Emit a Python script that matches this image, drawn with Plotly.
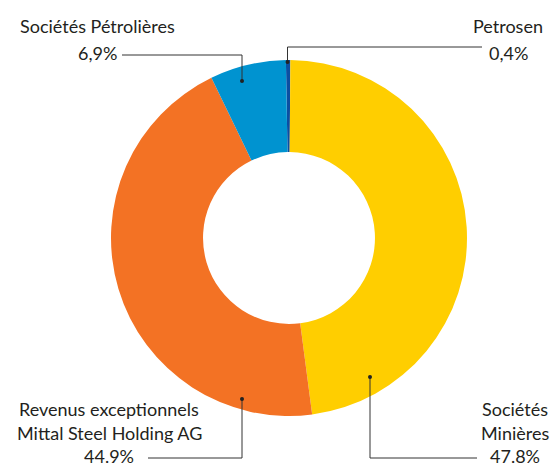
import plotly.graph_objects as go

W, H = 555, 468

categories = ["Petrosen", "Sociétés Minières", "Revenus exceptionnels Mittal Steel Holding AG", "Sociétés Pétrolières"]
values = [0.4, 47.8, 44.9, 6.9]
colors = ["#0B4EA2", "#FFCE00", "#F37224", "#0093D0"]

label_lines = {
    "Petrosen": ["Petrosen", "0,4%"],
    "Sociétés Minières": ["Sociétés", "Minières", "47.8%"],
    "Revenus exceptionnels Mittal Steel Holding AG": ["Revenus exceptionnels", "Mittal Steel Holding AG", "44.9%"],
    "Sociétés Pétrolières": ["Sociétés Pétrolières", "6,9%"],
}

# layout helpers (pixels -> paper)
def px(x):
    return x / W

def py(y):
    return 1 - y / H

cx, cy, R = 289, 238, 178

fig = go.Figure(go.Pie(
    labels=categories,
    values=values,
    marker=dict(colors=colors, line=dict(width=0)),
    sort=False,
    direction="clockwise",
    rotation=-1,
    hole=0.483,
    textinfo="none",
    hoverinfo="label+percent",
    showlegend=False,
    domain=dict(x=[px(cx - R), px(cx + R)], y=[py(cy + R), py(cy - R)]),
))

# label placement (pixel positions of text lines) and leader paths
label_pos = {
    "Sociétés Pétrolières": (97, [26, 53]),
    "Petrosen": (508, [26, 53]),
    "Revenus exceptionnels Mittal Steel Holding AG": (109, [409, 433, 456]),
    "Sociétés Minières": (515, [409, 433, 456]),
}
leaders = {
    "Sociétés Pétrolières": [(242, 81), (242, 55), (122, 55)],
    "Petrosen": [(287.5, 62), (287.5, 47), (482, 47)],
    "Revenus exceptionnels Mittal Steel Holding AG": [(242, 399), (242, 458), (148, 458)],
    "Sociétés Minières": [(370, 377), (370, 458), (477, 458)],
}

annotations = []
shapes = []
txt_color = "#231F20"
for cat in categories:
    xc, ys = label_pos[cat]
    for line, yy in zip(label_lines[cat], ys):
        annotations.append(dict(
            x=px(xc), y=py(yy), xref="paper", yref="paper",
            text=line, showarrow=False, xanchor="center", yanchor="middle",
            borderpad=0,
            font=dict(family="Lato", size=18, color=txt_color),
        ))
    pts = leaders[cat]
    path = "M " + " L ".join(f"{px(x)},{py(y)}" for x, y in pts)
    shapes.append(dict(type="path", path=path, xref="paper", yref="paper",
                       line=dict(color="#333333", width=1)))
    dx, dy = pts[0]
    r = 2
    shapes.append(dict(type="circle", xref="paper", yref="paper",
                       x0=px(dx - r), x1=px(dx + r), y0=py(dy + r), y1=py(dy - r),
                       fillcolor="#222222", line=dict(width=0)))

fig.update_layout(
    width=W, height=H,
    margin=dict(l=0, r=0, t=0, b=0),
    paper_bgcolor="white",
    plot_bgcolor="white",
    annotations=annotations,
    shapes=shapes,
)

fig.write_html(
    "out.html",
    config={"displayModeBar": False},
    post_script="document.body.style.margin='0';document.body.style.overflow='hidden';",
)
